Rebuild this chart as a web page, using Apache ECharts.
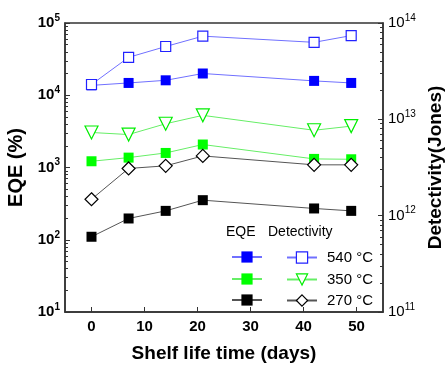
<!DOCTYPE html>
<html>
<head>
<meta charset="utf-8">
<script src="https://cdn.jsdelivr.net/npm/echarts@6/dist/echarts.min.js"></script>
<style>
  html, body { margin: 0; padding: 0; background: #fff; }
  #chart { width: 445px; height: 366px; }
</style>
</head>
<body>
<div id="chart"></div>
<script>
// shelf life days
var days = [0, 7, 14, 21, 42, 49];
// EQE (%)
var eqe540 = [13700, 14800, 16100, 20000, 15800, 14800];
var eqe350 = [1220, 1370, 1590, 2080, 1315, 1300];
var eqe270 = [110, 197, 251, 353, 271, 251];
// detectivity (Jones)
var det540 = [2.3e13, 4.4e13, 5.7e13, 7.3e13, 6.3e13, 7.4e13];
var det350 = [7.3e12, 6.95e12, 9.0e12, 1.1e13, 7.7e12, 8.5e12];
var det270 = [1.48e12, 3.09e12, 3.29e12, 4.17e12, 3.37e12, 3.37e12];
var xTicks = [0, 10, 20, 30, 40, 50];
var temps = ['540 °C', '350 °C', '270 °C'];
var eqeNames = ['EQE 540', 'EQE 350', 'EQE 270'];

function pairs(ys) {
    return days.map(function (d, i) { return [d, ys[i]]; });
}
function minors(lo, hi) {
    var out = [];
    for (var p = lo; p < hi; p *= 10) {
        for (var k = 2; k <= 9; k++) out.push(k * p);
    }
    return out;
}
function powLabel(v) {
    return '{a|10}{e|' + Math.round(Math.log10(v)) + '}';
}

var axisCol = '#333';
var font = 'Liberation Sans';

var chart = echarts.init(document.getElementById('chart'));

function eqeSeries(name, data, col, lineCol) {
    return {
        name: name, type: 'line', yAxisIndex: 0, data: pairs(data),
        symbol: 'rect', symbolSize: 10,
        itemStyle: { color: col },
        lineStyle: { color: lineCol, width: 1 },
        z: 3
    };
}
// open markers: white fill + thin coloured border (empty* symbols force a 2px stroke)
function detSeries(name, data, symbol, size, rot, col, lineCol) {
    return {
        name: name, type: 'line', yAxisIndex: 1, data: pairs(data),
        symbol: symbol, symbolSize: size, symbolRotate: rot,
        itemStyle: { color: '#fff', borderColor: col, borderWidth: 1.2 },
        lineStyle: { color: lineCol, width: 1 },
        z: 4
    };
}

// one legend per entry so each row sits where the reference has it
var rowTops = [245, 267, 288];
var legends = [];
rowTops.forEach(function (t, i) {
    legends.push({
        left: 226, top: t, itemWidth: 30, itemHeight: 14,
        data: [eqeNames[i]],
        formatter: function () { return ''; },
        selectedMode: false
    });
    legends.push({
        left: 281, top: t, itemWidth: 30, itemHeight: 14,
        data: [temps[i]],
        itemStyle: { borderWidth: 1.2 },
        textStyle: { fontSize: 15, color: '#000', padding: [0, 0, 0, 5] },
        selectedMode: false
    });
});

var option = {
    animation: false,
    textStyle: { fontFamily: font },
    grid: {
        left: 65, right: 62, top: 23, bottom: 54,
        outerBoundsMode: 'none',
        show: true, borderColor: axisCol, borderWidth: 1.5
    },
    graphic: [
        { type: 'text', left: 226, top: 225, style: { text: 'EQE', font: '14px Liberation Sans', fill: '#000' } },
        { type: 'text', left: 268, top: 225, style: { text: 'Detectivity', font: '14px Liberation Sans', fill: '#000' } }
    ],
    legend: legends,
    xAxis: {
        type: 'value', min: -5, max: 55,
        name: 'Shelf life time (days)', nameLocation: 'middle', nameGap: 32,
        nameTextStyle: { fontSize: 19, fontWeight: 'bold', color: '#000' },
        axisLine: { onZero: false, lineStyle: { color: axisCol, width: 1.5 } },
        axisTick: { inside: true, length: 5, customValues: xTicks, lineStyle: { color: axisCol } },
        axisLabel: { customValues: xTicks, fontSize: 15, fontWeight: 'bold', color: '#000', margin: 7 },
        splitLine: { show: false }
    },
    yAxis: [
        {
            type: 'log', logBase: 10, min: 10, max: 100000, position: 'left',
            name: 'EQE (%)', nameLocation: 'middle', nameGap: 32, nameRotate: 90,
            nameTextStyle: { fontSize: 20, fontWeight: 'bold', color: '#000' },
            axisLine: { show: true, onZero: false, lineStyle: { color: axisCol, width: 1.5 } },
            axisTick: { inside: true, length: 5, lineStyle: { color: axisCol } },
            axisLabel: {
                formatter: powLabel, margin: 5,
                rich: {
                    a: { fontSize: 15, fontWeight: 'bold', color: '#000' },
                    e: { fontSize: 10, fontWeight: 'bold', color: '#000', padding: [0, 0, 10, 0] }
                }
            },
            splitLine: { show: false }
        },
        {
            type: 'log', logBase: 10, min: 1e11, max: 1e14, position: 'right',
            name: 'Detectivity(Jones)', nameLocation: 'middle', nameGap: 40, nameRotate: 90,
            nameTextStyle: { fontSize: 19, fontWeight: 'bold', color: '#000' },
            axisLine: { show: true, onZero: false, lineStyle: { color: axisCol, width: 1.5 } },
            axisTick: { inside: true, length: 5, lineStyle: { color: axisCol } },
            axisLabel: {
                formatter: powLabel, margin: 5,
                rich: {
                    a: { fontSize: 15, color: '#000' },
                    e: { fontSize: 10, color: '#000', padding: [0, 0, 10, 0] }
                }
            },
            splitLine: { show: false }
        },
        {
            type: 'log', logBase: 10, min: 10, max: 100000, position: 'left',
            axisLine: { show: false, onZero: false },
            axisTick: { inside: true, length: 3, customValues: minors(10, 100000), lineStyle: { color: axisCol } },
            axisLabel: { show: false },
            splitLine: { show: false }
        },
        {
            type: 'log', logBase: 10, min: 1e11, max: 1e14, position: 'right',
            axisLine: { show: false, onZero: false },
            axisTick: { inside: true, length: 3, customValues: minors(1e11, 1e14), lineStyle: { color: axisCol } },
            axisLabel: { show: false },
            splitLine: { show: false }
        }
    ],
    series: [
        eqeSeries(eqeNames[0], eqe540, '#0000ff', '#7070ff'),
        eqeSeries(eqeNames[1], eqe350, '#00ff00', '#66ee66'),
        eqeSeries(eqeNames[2], eqe270, '#000000', '#555555'),
        detSeries(temps[0], det540, 'rect', 10, 0, '#2222ff', '#7070ff'),
        detSeries(temps[1], det350, 'triangle', 13, 180, '#00ee00', '#66ee66'),
        detSeries(temps[2], det270, 'diamond', 13, 0, '#000000', '#555555')
    ]
};
chart.setOption(option);
</script>
</body>
</html>
